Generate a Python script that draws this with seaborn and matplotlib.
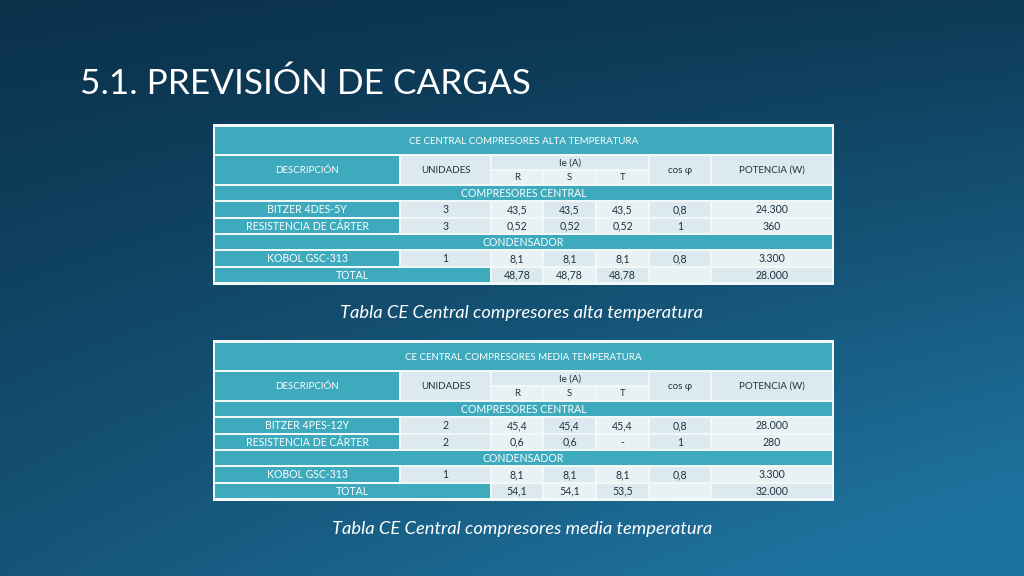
import numpy as np
import seaborn as sns
import matplotlib.pyplot as plt
from matplotlib.patches import Rectangle

sns.set_theme(style="white", font="Lato")

# table data
titles = ["CE CENTRAL COMPRESORES ALTA TEMPERATURA", "CE CENTRAL COMPRESORES MEDIA TEMPERATURA"]
captions = ["Tabla CE Central compresores alta temperatura", "Tabla CE Central compresores media temperatura"]
comp_names = ["BITZER 4DES-5Y", "BITZER 4PES-12Y"]
comp_rows = [
    [["3", "43,5", "43,5", "43,5", "0,8", "24.300"], ["3", "0,52", "0,52", "0,52", "1", "360"]],
    [["2", "45,4", "45,4", "45,4", "0,8", "28.000"], ["2", "0,6", "0,6", "-", "1", "280"]],
]
cond_rows = [["1", "8,1", "8,1", "8,1", "0,8", "3.300"], ["1", "8,1", "8,1", "8,1", "0,8", "3.300"]]
totals = [["48,78", "48,78", "48,78", "", "28.000"], ["54,1", "54,1", "53,5", "", "32.000"]]

TEAL = "#3eaabd"
LIGHT = "#dce9ee"
LIGHT2 = "#e8f1f4"
TXT = "#1f3340"

fig = plt.figure(figsize=(10.24, 5.76), dpi=100)
ax = fig.add_axes([0, 0, 1, 1])
ax.set_xlim(0, 1024)
ax.set_ylim(576, 0)
ax.axis("off")

# background gradient
yy, xx = np.mgrid[0:1:200j, 0:1:360j]
g = np.clip(0.55 * yy + 0.45 * xx * yy + 0.15 * xx, 0, 1)
c0 = np.array([0.04, 0.19, 0.29])
c1 = np.array([0.12, 0.45, 0.62])
img = c0 + (c1 - c0) * g[..., None]
ax.imshow(img, extent=[0, 1024, 576, 0], aspect="auto", zorder=0)

ax.text(80, 84, "5.1. PREVISIÓN DE CARGAS", color="white", fontsize=25.3, va="center", ha="left")

xs = [214, 400, 491, 543, 596, 649, 711, 833]


def cell(x0, x1, y0, y1, color, text="", tc=TXT, fs=7):
    ax.add_patch(Rectangle((x0 + 1, y0 + 1), x1 - x0 - 2, y1 - y0 - 2, color=color, lw=0, zorder=2))
    if text:
        ax.text((x0 + x1) / 2, (y0 + y1) / 2 + 0.5, text, ha="center", va="center",
                fontsize=fs, color=tc, zorder=3)


def table(top, k):
    ax.add_patch(Rectangle((213, top - 2), 621, 161, color="#f2f7f8", lw=0, zorder=1))
    cell(xs[0], xs[-1], top, top + 29, TEAL, titles[k], tc="white")
    h0 = top + 29
    cell(xs[0], xs[1], h0, h0 + 30, TEAL, "DESCRIPCIÓN", tc="white")
    cell(xs[1], xs[2], h0, h0 + 30, LIGHT, "UNIDADES")
    cell(xs[2], xs[5], h0, h0 + 15, LIGHT, "Ie (A)")
    for i, p in enumerate(["R", "S", "T"]):
        cell(xs[2 + i], xs[3 + i], h0 + 15, h0 + 30, LIGHT2, p)
    cell(xs[5], xs[6], h0, h0 + 30, LIGHT, "cos φ")
    cell(xs[6], xs[7], h0, h0 + 30, LIGHT, "POTENCIA (W)")
    y = h0 + 30
    rh = 16.3
    rows = [("COMPRESORES CENTRAL", None),
            (comp_names[k], comp_rows[k][0]),
            ("RESISTENCIA DE CÁRTER", comp_rows[k][1]),
            ("CONDENSADOR", None),
            ("KOBOL GSC-313", cond_rows[k])]
    for name, vals in rows:
        if vals is None:
            cell(xs[0], xs[-1], y, y + rh, TEAL, name, tc="white", fs=7.6)
        else:
            cell(xs[0], xs[1], y, y + rh, TEAL, name, tc="white", fs=7.6)
            for j, v in enumerate(vals):
                cell(xs[1 + j], xs[2 + j], y, y + rh, LIGHT if j % 2 == 0 else LIGHT2, v, fs=7.6)
        y += rh
    cell(xs[0], xs[2], y, y + rh, TEAL, "TOTAL", tc="white", fs=7.6)
    for j, v in enumerate(totals[k]):
        cell(xs[2 + j], xs[3 + j], y, y + rh, LIGHT if j % 2 == 0 else LIGHT2, v, fs=7.6)
    ax.text(522, y + 30 + rh, captions[k], ha="center", va="center", color="white",
            fontsize=13.2, style="italic")


table(126, 0)
table(342, 1)

fig.savefig("out.png", dpi=100)
